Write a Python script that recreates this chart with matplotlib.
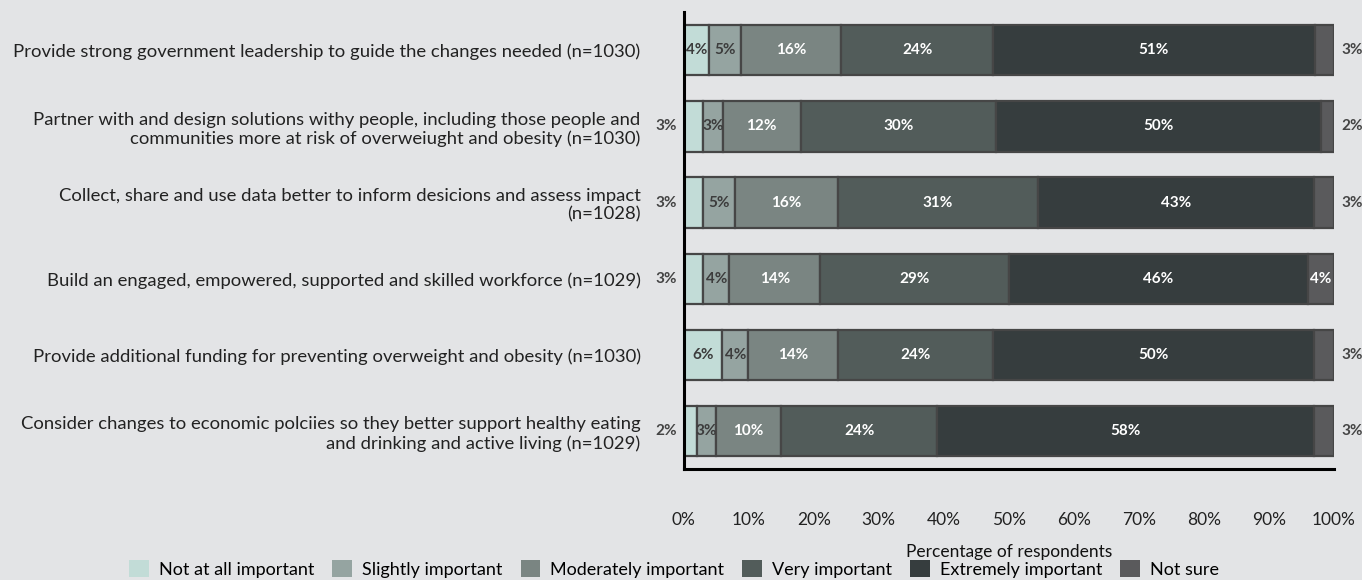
import numpy as np
import matplotlib.pyplot as plt
from matplotlib.patches import Patch

plt.rcParams['font.family'] = ['Lato', 'DejaVu Sans']

questions = [
    "Provide strong government leadership to guide the changes needed (n=1030)",
    "Partner with and design solutions withy people, including those people and\ncommunities more at risk of overweiught and obesity (n=1030)",
    "Collect, share and use data better to inform desicions and assess impact\n(n=1028)",
    "Build an engaged, empowered, supported and skilled workforce (n=1029)",
    "Provide additional funding for preventing overweight and obesity (n=1030)",
    "Consider changes to economic polciies so they better support healthy eating\nand drinking and active living (n=1029)",
]
categories = ["Not at all important", "Slightly important", "Moderately important",
              "Very important", "Extremely important", "Not sure"]
not_at_all = [4, 3, 3, 3, 6, 2]
slightly = [5, 3, 5, 4, 4, 3]
moderately = [16, 12, 16, 14, 14, 10]
very = [24, 30, 31, 29, 24, 24]
extremely = [51, 50, 43, 46, 50, 58]
not_sure = [3, 2, 3, 4, 3, 3]

colors = ['#c2dcd7', '#95a4a1', '#7a8582', '#525c5a', '#363d3e', '#5a5a5c']
text_colors = ['#3c3c3c', '#3c3c3c', 'white', 'white', 'white', 'white']
bg = '#e3e4e6'

data = np.array([not_at_all, slightly, moderately, very, extremely, not_sure], dtype=float)
# scale each row so the bar fills 100%
widths = data / data.sum(axis=0) * 100

fig = plt.figure(figsize=(13.62, 5.8), dpi=100, facecolor=bg)
ax = fig.add_axes([0.502, 0.191, 0.4772, 0.788])
ax.set_facecolor(bg)

y = np.arange(len(questions))
left = np.zeros(len(questions))
for k in range(len(categories)):
    ax.barh(y, widths[k], left=left, height=0.66, color=colors[k],
            edgecolor='#464646', linewidth=1.6, label=categories[k])
    for i in range(len(questions)):
        v = int(data[k, i])
        cx = left[i] + widths[k, i] / 2
        if k == 0 and v <= 3:
            ax.text(-1.0, y[i], f"{v}%", ha='right', va='center', fontsize=11,
                    fontweight='bold', color='#444444', clip_on=False)
        elif k == 5 and v <= 3:
            ax.text(101.2, y[i], f"{v}%", ha='left', va='center', fontsize=11,
                    fontweight='bold', color='#444444', clip_on=False)
        else:
            ax.text(cx, y[i], f"{v}%", ha='center', va='center', fontsize=11,
                    fontweight='bold', color=text_colors[k])
    left += widths[k]

ax.set_xlim(0, 100)
ax.set_ylim(5.5, -0.5)
ax.set_yticks(y)
ax.set_yticklabels(questions, fontsize=13.3, color='#222222')
ax.tick_params(axis='y', length=0, pad=31)
ax.set_xticks(np.arange(0, 101, 10))
ax.set_xticklabels([f"{t}%" for t in range(0, 101, 10)], fontsize=12.5, color='#222222')
ax.tick_params(axis='x', length=0, pad=31)
ax.set_xlabel("Percentage of respondents", fontsize=12.5, color='#111111', labelpad=11)

for s in ['top', 'right']:
    ax.spines[s].set_visible(False)
ax.spines['left'].set_linewidth(2.2)
ax.spines['bottom'].set_linewidth(2.2)
ax.spines['left'].set_color('black')
ax.spines['bottom'].set_color('black')

handles = [Patch(facecolor=c, edgecolor='none') for c in colors]
fig.legend(handles, categories, loc='center', bbox_to_anchor=(0.495, 0.019), ncol=6,
           frameon=False, fontsize=13, handlelength=1.1, handleheight=1.1,
           handletextpad=0.55, columnspacing=1.0, borderpad=0)

fig.savefig('out.png', dpi=100, facecolor=bg)
